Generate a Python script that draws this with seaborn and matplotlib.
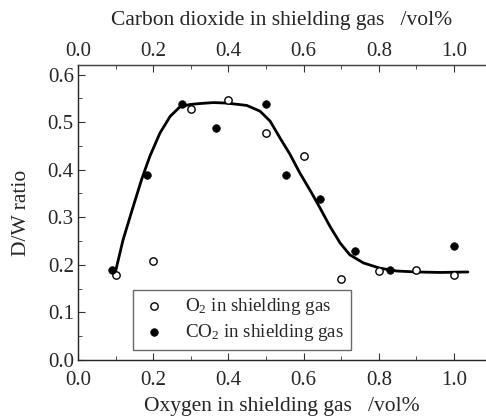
import numpy as np
import pandas as pd
import matplotlib
matplotlib.use("Agg")
import matplotlib.pyplot as plt
import seaborn as sns
from matplotlib.ticker import MultipleLocator

# O2 in shielding gas (open circles)
o2_x = [0.10, 0.20, 0.30, 0.40, 0.50, 0.60, 0.70, 0.80, 0.90, 1.00]
o2_y = [0.179, 0.209, 0.527, 0.547, 0.478, 0.428, 0.170, 0.188, 0.189, 0.179]

# CO2 in shielding gas (filled circles)
co2_x = [0.09, 0.183, 0.276, 0.367, 0.50, 0.552, 0.644, 0.737, 0.83, 1.00]
co2_y = [0.189, 0.388, 0.537, 0.488, 0.537, 0.388, 0.338, 0.229, 0.189, 0.240]

# fitted curve
fit_x = [0.098, 0.12, 0.147, 0.169, 0.191, 0.218, 0.245, 0.271, 0.298, 0.324,
         0.36, 0.395, 0.449, 0.484, 0.511, 0.537, 0.564, 0.590, 0.620, 0.644,
         0.670, 0.697, 0.723, 0.759, 0.803, 0.848, 0.901, 0.963, 1.037]
fit_y = [0.180, 0.253, 0.323, 0.379, 0.428, 0.477, 0.512, 0.532, 0.537, 0.539,
         0.541, 0.540, 0.535, 0.523, 0.502, 0.467, 0.432, 0.393, 0.353, 0.319,
         0.281, 0.246, 0.221, 0.204, 0.193, 0.187, 0.185, 0.184, 0.185]

tick_labels = ["0.0", "0.2", "0.4", "0.6", "0.8", "1.0"]
tick_pos = [0.0, 0.2, 0.4, 0.6, 0.8, 1.0]

sns.set_style("ticks")
plt.rcParams["font.family"] = ["Liberation Serif", "DejaVu Serif"]
plt.rcParams["mathtext.fontset"] = "custom"
plt.rcParams["mathtext.rm"] = "Liberation Serif"
plt.rcParams["mathtext.it"] = "Liberation Serif:italic"

fig = plt.figure(figsize=(4.86, 4.16), dpi=100)
ax = fig.add_axes([78 / 486, 1 - 360 / 416, 1 - 78 / 486, 295 / 416])

fit_df = pd.DataFrame({"x": fit_x, "y": fit_y})
sns.lineplot(data=fit_df, x="x", y="y", color="black", lw=2.0, sort=False,
             ax=ax, zorder=2)

o2_df = pd.DataFrame({"x": o2_x, "y": o2_y})
co2_df = pd.DataFrame({"x": co2_x, "y": co2_y})
sns.scatterplot(data=o2_df, x="x", y="y", s=28, facecolor="white",
                edgecolor="black", linewidth=1.0, ax=ax, zorder=3,
                label="O$_2$ in shielding gas")
sns.scatterplot(data=co2_df, x="x", y="y", s=30, color="black",
                edgecolor="black", linewidth=0.5, ax=ax, zorder=3,
                label="CO$_2$ in shielding gas")

ax.set_xlim(0, 408 / 376)
ax.set_ylim(0, 0.62)
ax.xaxis.set_minor_locator(MultipleLocator(0.1))
ax.yaxis.set_major_locator(MultipleLocator(0.1))
ax.yaxis.set_minor_locator(MultipleLocator(0.05))
ax.set_xticks(tick_pos)
ax.set_xticklabels(tick_labels)
ax.tick_params(which="both", direction="in", labelsize=15, color="#333333")
ax.tick_params(which="major", length=5)
ax.tick_params(which="minor", length=3)
ax.tick_params(axis="x", pad=8)
ax.tick_params(axis="y", pad=3)
ax.set_xlabel("Oxygen in shielding gas   /vol%", fontsize=15.5, labelpad=5)
ax.set_ylabel("D/W ratio", fontsize=15.5, labelpad=12)
ax.spines["right"].set_visible(False)
for s in ["left", "bottom", "top"]:
    ax.spines[s].set_color("#444444")
    ax.spines[s].set_linewidth(1.0)

ax2 = ax.twiny()
ax2.set_xlim(ax.get_xlim())
ax2.xaxis.set_minor_locator(MultipleLocator(0.1))
ax2.set_xticks(tick_pos)
ax2.set_xticklabels(tick_labels)
ax2.tick_params(which="both", direction="in", labelsize=15, color="#333333")
ax2.tick_params(which="major", length=5, pad=3)
ax2.tick_params(which="minor", length=3)
ax2.set_xlabel("Carbon dioxide in shielding gas   /vol%", fontsize=15.5, labelpad=12)
ax2.spines["right"].set_visible(False)
ax2.spines["top"].set_color("#444444")

leg = ax.legend(loc="lower left", bbox_to_anchor=(0.134, 0.035), fontsize=13.7,
                frameon=True, fancybox=False, edgecolor="#444444",
                handletextpad=0.9, borderpad=0.35, labelspacing=0.25,
                handlelength=1.5, borderaxespad=0)
leg.get_frame().set_linewidth(1.0)

fig.savefig("out.png", dpi=100)
